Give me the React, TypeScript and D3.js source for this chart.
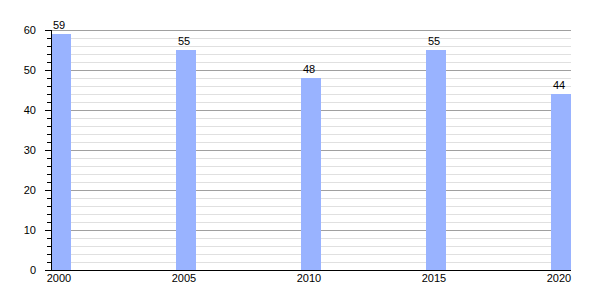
import React from "react";
import * as d3 from "d3";

const years = [2000, 2005, 2010, 2015, 2020];
const values = [59, 55, 48, 55, 44];
const yTicks = [0, 10, 20, 30, 40, 50, 60];

export default function App() {
  const W = 600, H = 300;
  const left = 51, right = 571, top = 30, bottom = 270;
  const barW = 20;
  const x = d3.scaleLinear().domain([2000, 2020]).range([left, right - barW]);
  const y = d3.scaleLinear().domain([0, 60]).range([bottom, top]);
  const minor = d3.range(0, 61, 2).filter((v) => v % 10 !== 0);
  const font = "'Liberation Sans', Arial, sans-serif";
  return (
    <svg width={W} height={H} style={{ position: "absolute", left: 0, top: 0 }}>
      <rect width={W} height={H} fill="#fff" />
      {minor.map((v) => (
        <g key={"m" + v}>
          <line x1={left} x2={right} y1={y(v) + 0.5} y2={y(v) + 0.5} stroke="#e0e0e0" />
          <line x1={left - 4} x2={left} y1={y(v) + 0.5} y2={y(v) + 0.5} stroke="#000" />
        </g>
      ))}
      {yTicks.map((v) => (
        <g key={"M" + v}>
          {v > 0 && <line x1={left} x2={right} y1={y(v) + 0.5} y2={y(v) + 0.5} stroke="#a0a0a0" />}
          <line x1={left - 6} x2={left} y1={y(v) + 0.5} y2={y(v) + 0.5} stroke="#000" />
          <text x={36} y={y(v) + 4} fontSize={11} fontFamily={font} textAnchor="end" fill="#000">
            {v}
          </text>
        </g>
      ))}
      {years.map((yr, i) => (
        <g key={yr}>
          <rect x={x(yr)} y={y(values[i])} width={barW} height={bottom - y(values[i])} fill="#99b3ff" />
          <text x={x(yr) + barW / 2 - 2} y={y(values[i]) - 5} fontSize={11} fontFamily={font} textAnchor="middle" fill="#000">
            {values[i]}
          </text>
          <text x={x(yr) + barW / 2 - 2} y={282} fontSize={11} fontFamily={font} textAnchor="middle" fill="#000">
            {yr}
          </text>
        </g>
      ))}
      <line x1={left + 0.5} x2={left + 0.5} y1={top} y2={bottom} stroke="#000" />
      <line x1={left - 6} x2={right} y1={bottom + 0.5} y2={bottom + 0.5} stroke="#000" />
    </svg>
  );
}
